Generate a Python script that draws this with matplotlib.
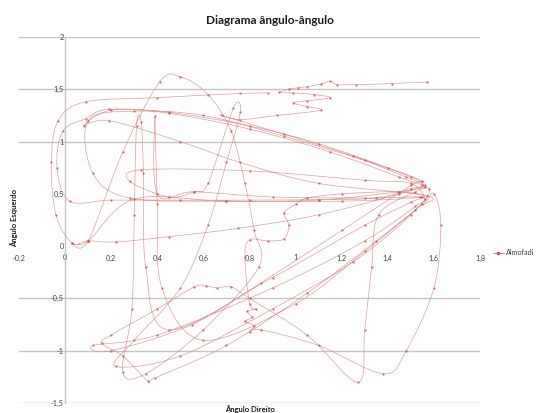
import numpy as np
import matplotlib
matplotlib.use("Agg")
import matplotlib.pyplot as plt
from matplotlib.path import Path
from matplotlib.patches import PathPatch
from matplotlib.ticker import FuncFormatter, MultipleLocator

# Ângulo direito (x) e ângulo esquerdo (y), em radianos, pela ordem de aquisição.
# Cada linha das listas corresponde ao mesmo troço do registo.
angulo_direito = [
    1.57, 1.42, 1.26, 1.18, 1.15, 1.11, 1.05, 1.01, 0.97, 0.93, 0.99, 1.08, 1.15, 1.05, 0.99, 1.05, 1.11, 0.92, 0.76, 0.68,
    0.95, 1.25, 1.48, 1.56, 1.50, 1.35, 1.10, 0.80, 0.50, 0.20, 0.02, -0.035, -0.01, 0.09, 0.19, 0.45, 0.80, 1.15, 1.45, 1.56, 1.52,
    1.36, 1.33, 1.30, 1.27, 1.05, 0.80, 0.72, 0.66, 0.61, 0.56, 0.40, 0.20, 0.16, 0.25, 0.36, 0.39, 0.70, 1.05, 1.35, 1.55, 1.60,
    1.63, 1.60, 1.48, 1.38, 1.10, 0.85, 0.80, 0.82, 0.78, 0.81, 0.79, 0.83, 0.80, 0.78, 0.80, 0.88, 0.95, 0.97, 0.95, 1.00, 1.05, 1.20, 1.45, 1.55,
    1.20, 0.70, 0.30, 0.10, 0.03, 0.10, 0.25, 0.41, 0.50, 0.62, 0.72, 0.78, 0.82, 0.84, 0.60, 0.35, 0.25,
    0.29, 0.30, 0.31, 0.33, 0.34, 0.35, 0.45, 0.90, 1.30, 1.50, 1.54,
    1.30, 0.90, 0.56, 0.40, 0.39, 0.40, 0.42, 0.60, 1.00, 1.30, 1.52, 1.57,
    1.10, 0.76, 0.50, 0.19, 0.08, 0.20, 0.45, 0.80, 1.10, 1.40, 1.55, 1.50,
    1.20, 0.85, 0.55, 0.20, 0.12, 0.40, 0.90, 1.30, 1.52, 1.56,
    1.50, 1.30, 0.80, 0.33, 0.28, 0.45, 0.56, 0.62, 0.73, 0.76, 0.70, 0.62, 0.50, 0.30, 0.22, 0.50, 0.90, 1.25, 1.50, 1.58,
    1.45, 1.10, 0.70, 0.28, 0.12, 0.10, 0.30, 0.60, 0.95, 1.30, 1.50, 1.55,
    1.45, 1.10, 0.75, 0.45, 0.22, 0.10, 0.03,
    -0.04, -0.06, -0.03, 0.09, 0.40, 0.76, 0.88,
]
angulo_esquerdo = [
    1.57, 1.555, 1.545, 1.545, 1.575, 1.55, 1.525, 1.515, 1.50, 1.47, 1.465, 1.45, 1.42, 1.39, 1.37, 1.335, 1.30, 1.25, 1.21, 1.25,
    1.07, 0.86, 0.66, 0.58, 0.55, 0.46, 0.445, 0.44, 0.44, 0.44, 0.43, 0.75, 1.10, 1.22, 1.31, 1.27, 1.12, 0.90, 0.66, 0.57, 0.52,
    0.30, -0.20, -0.80, -1.30, -0.85, -0.50, -0.39, -0.40, -0.38, -0.39, -0.60, -0.85, -0.93, -1.05, -1.29, -1.26, -0.95, -0.45, 0.05, 0.40, 0.50,
    0.20, -0.40, -1.00, -1.22, -0.95, -0.80, -0.82, -0.76, -0.72, -0.68, -0.62, -0.60, -0.55, -0.10, 0.06, 0.05, 0.07, 0.20, 0.32, 0.40, 0.46, 0.50, 0.52, 0.47,
    0.43, 0.43, 0.45, 0.05, 0.03, 0.05, 0.90, 1.57, 1.62, 1.45, 1.10, 0.60, 0.15, -0.20, -0.80, -1.22, -1.20,
    -0.60, 0.30, 1.15, 1.19, 0.70, -0.20, -0.80, -0.30, 0.20, 0.42, 0.47,
    0.46, 0.47, 0.52, 0.50, 1.24, 0.40, -0.40, -0.90, -0.55, -0.05, 0.35, 0.48,
    0.60, 0.80, 1.00, 1.20, 1.15, 1.30, 1.28, 1.15, 0.98, 0.75, 0.62, 0.58,
    0.15, -0.35, -0.75, -1.00, -0.95, -0.85, -0.40, 0.05, 0.38, 0.45,
    0.60, 0.63, 0.72, 0.73, 0.62, 0.47, 0.52, 0.60, 1.32, 1.28, 0.80, 0.20, -0.40, -0.90, -1.15, -1.05, -0.60, -0.15, 0.30, 0.55,
    0.52, 0.44, 0.43, 0.46, 0.70, 1.20, 1.29, 1.25, 1.05, 0.82, 0.66, 0.58,
    0.50, 0.30, 0.17, 0.09, 0.04, 0.05, 0.03,
    0.30, 0.80, 1.20, 1.38, 1.42, 1.46, 1.465,
]
serie = "Almofadi"

titulo = "Diagrama ângulo-ângulo"
rotulo_x = "Ângulo Direito"
rotulo_y = "Ângulo Esquerdo"


def linha_suave(xs, ys, tensao=1/6):
    """Curva de Bézier cúbica que passa pelos pontos (suavização tipo folha de cálculo)."""
    pts = np.column_stack([xs, ys])
    n = len(pts)
    verts = [pts[0]]
    codes = [Path.MOVETO]
    for i in range(n - 1):
        p0 = pts[i - 1] if i > 0 else pts[i]
        p1 = pts[i]
        p2 = pts[i + 1]
        p3 = pts[i + 2] if i + 2 < n else pts[i + 1]
        c1 = p1 + (p2 - p0) * tensao
        c2 = p2 - (p3 - p1) * tensao
        verts += [c1, c2, p2]
        codes += [Path.CURVE4] * 3
    return Path(verts, codes)


plt.rcParams["font.family"] = ["Lato", "DejaVu Sans"]

fig = plt.figure(figsize=(5.41, 4.13), dpi=100)
ax = fig.add_axes([19 / 541, 1 - 403 / 413, (480 - 19) / 541, (403 - 37) / 413])

ax.set_xlim(-0.2, 1.8)
ax.set_ylim(-1.5, 2.0)

# linhas de grelha horizontais
for g in [2.0, 1.5, 1.0, -0.5, -1.0, -1.5]:
    ax.axhline(g, color="#c4c4c4", lw=1.0, zorder=0)

for s in ["top", "right"]:
    ax.spines[s].set_visible(False)
ax.spines["left"].set_position(("data", 0))
ax.spines["left"].set_color("#c4c4c4")
ax.spines["left"].set_linewidth(1.0)
ax.spines["bottom"].set_position(("data", 0))
ax.spines["bottom"].set_visible(False)

ax.xaxis.set_major_locator(MultipleLocator(0.2))
ax.yaxis.set_major_locator(MultipleLocator(0.5))
fmt = FuncFormatter(lambda v, p: ("%g" % round(v, 2)).replace(".", ","))
ax.xaxis.set_major_formatter(fmt)
ax.yaxis.set_major_formatter(fmt)
ax.tick_params(axis="both", length=0, labelsize=5.2, colors="#404040")
ax.tick_params(axis="y", pad=1)
ax.tick_params(axis="x", pad=6)

cor_linha = "#d98f8d"
cor = "#c0504d"
ax.add_patch(PathPatch(linha_suave(angulo_direito, angulo_esquerdo), fill=False,
                       edgecolor=cor_linha, lw=0.5, alpha=0.85, zorder=3))
ax.plot(angulo_direito, angulo_esquerdo, ls="none", marker="s", ms=1.1,
        color=cor, mec=cor, mew=0.2, alpha=0.85, zorder=4)

fig.text(270 / 541, 1 - 20 / 413, titulo, ha="center", va="center",
         fontsize=8.5, fontweight="bold", color="#1a1a1a")
fig.text(250 / 541, 1 - 409 / 413, rotulo_x, ha="center", va="center",
         fontsize=5.5, fontweight="bold", color="#1a1a1a")
fig.text(14 / 541, 1 - 218 / 413, rotulo_y, ha="center", va="center",
         rotation=90, fontsize=5.5, fontweight="bold", color="#1a1a1a")

h, = ax.plot([], [], color=cor_linha, lw=0.7, marker="s", ms=1.4,
             mfc=cor, mec=cor)
fig.legend([h], [serie], loc="center left", bbox_to_anchor=(486 / 541, 1 - 253 / 413),
           frameon=False, fontsize=5.2, handlelength=1.6, handletextpad=0.3,
           labelcolor="#404040")

fig.savefig("out.png", dpi=100)
